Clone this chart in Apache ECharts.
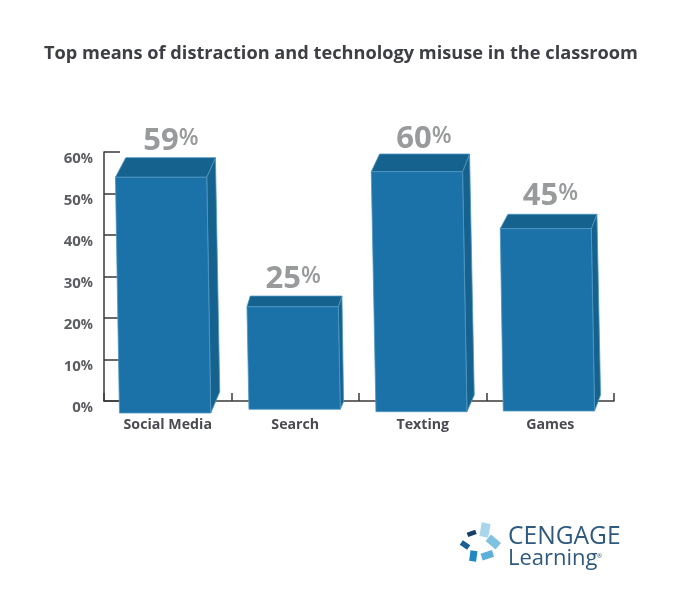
<!DOCTYPE html>
<html><head><meta charset="utf-8">
<style>html,body{margin:0;padding:0;background:#fff}#c{width:700px;height:614px}</style>
<script src="https://cdn.jsdelivr.net/npm/echarts@6/dist/echarts.min.js"></script>
</head><body><div id="c"></div>
<script>
const chartTitle = 'Top means of distraction and technology misuse in the classroom';
const categories = ['Social Media', 'Search', 'Texting', 'Games'];
const shareValues = [59, 25, 60, 45];
const yTicks = [0, 10, 20, 30, 40, 50, 60];

// Drawing geometry of each pseudo-3D box, in pixels around the category centre.
const boxLook = [
  {fl:-52.3, fr:39, bl:-48.3, br:43, tl:-42, tr:47.7, sb:52, lift:1.5, dy:19.6, drop:12, sideDrop:-9.3, lx:11, ly:-16},
  {fl:-48.3, fr:43, bl:-46.3, br:45, tl:-45, tr:46.7, sb:48.3, lift:-1.2, dy:10.7, drop:8.3, sideDrop:0.7, lx:5.7, ly:-16.5},
  {fl:-51.5, fr:39.8, bl:-46.8, br:44.2, tl:-43.2, tr:46.8, sb:51.5, lift:2, dy:17.7, drop:10.7, sideDrop:-6, lx:9, ly:-15},
  {fl:-50, fr:41, bl:-47, br:44.3, tl:-42.3, tr:46.7, sb:50.3, lift:0, dy:14.3, drop:10, sideDrop:-6, lx:8, ly:-18}
];
const FRONT = '#1b72a8', DARK = '#15628f', EDGE = '#4f97c2';

function renderBox(params, api) {
  const i = params.dataIndex;
  const k = boxLook[i];
  const p = api.coord([api.value(0), api.value(1)]);
  const z = api.coord([api.value(0), 0]);
  const cx = p[0];
  const backTop = p[1] + k.lift;
  const frontTop = backTop + k.dy;
  const frontBot = z[1] + k.drop;
  const sideBot = z[1] + k.sideDrop;
  const line = {stroke: EDGE, lineWidth: 0.8};
  return {
    type: 'group',
    children: [
      {type:'polygon', shape:{points:[[cx+k.fr,frontTop],[cx+k.tr,backTop],[cx+k.sb,sideBot],[cx+k.br,frontBot]]}, style:Object.assign({fill:DARK},line)},
      {type:'polygon', shape:{points:[[cx+k.fl,frontTop],[cx+k.tl,backTop],[cx+k.tr,backTop],[cx+k.fr,frontTop]]}, style:Object.assign({fill:DARK},line)},
      {type:'polygon', shape:{points:[[cx+k.fl,frontTop],[cx+k.fr,frontTop],[cx+k.br,frontBot],[cx+k.bl,frontBot]]}, style:Object.assign({fill:FRONT},line)},
      {type:'text', style:{x:cx+k.lx, y:backTop+k.ly, text:String(api.value(1)), fill:'#999a9c',
        font:'bold 31px "Open Sans"', align:'right', verticalAlign:'middle'}},
      {type:'text', style:{x:cx+k.lx, y:backTop+k.ly-3, text:'%', fill:'#999a9c',
        font:'600 23px "Open Sans"', align:'left', verticalAlign:'middle'}}
    ]
  };
}

const tile = (x, y, w, h, deg, fill) => ({
  type:'rect', x, y, rotation: -deg*Math.PI/180, originX:0, originY:0,
  shape:{x:-w/2, y:-h/2, width:w, height:h}, style:{fill}, silent:true
});

const chart = echarts.init(document.getElementById('c'), null, {renderer:'canvas'});
chart.setOption({
  animation:false,
  backgroundColor:'#fff',
  title:{text:chartTitle, left:39, top:40, textStyle:{fontFamily:'Open Sans', fontWeight:'bold', fontSize:18.2, color:'#3d3f45'}},
  grid:{left:104, right:86, top:152, bottom:213, containLabel:false},
  xAxis:{type:'category', data:categories, boundaryGap:true,
    axisLine:{lineStyle:{color:'#3a3a3a', width:1.5}},
    axisTick:{show:true, inside:true, length:8, lineStyle:{color:'#3a3a3a', width:1.5}},
    axisLabel:{fontFamily:'Open Sans', fontWeight:'bold', fontSize:14.2, color:'#4a4b52', margin:17}},
  yAxis:{type:'value', min:yTicks[0], max:yTicks[yTicks.length-1], interval:10,
    splitLine:{show:false},
    axisLine:{show:true, lineStyle:{color:'#3a3a3a', width:1.5}},
    axisTick:{show:true, inside:true, length:16, lineStyle:{color:'#3a3a3a', width:1.5}},
    axisLabel:{margin:11, padding:[14,0,0,0], formatter:v=>'{n|'+v+'}{p|%}',
      rich:{n:{fontFamily:'Open Sans', fontWeight:'bold', fontSize:15, color:'#5c5d62'},
            p:{fontFamily:'Open Sans', fontWeight:'bold', fontSize:13.5, color:'#5c5d62'}}}},
  series:[{type:'custom', data:shareValues.map((v,i)=>[i,v]), encode:{x:0,y:1}, renderItem:renderBox, clip:false, z:3}],
  graphic:[
    tile(485,530,9,14,10,'#a9d6ea'),
    tile(493.3,542,13,8.5,40,'#7fc2e0'),
    tile(487.3,555.3,12,7,-18,'#5cb0d8'),
    tile(473.3,556,7,10.5,8,'#1f88c2'),
    tile(465,545,9,5.5,35,'#1c5f95'),
    tile(471.7,533.3,9,4.5,-20,'#173f66'),
    {type:'text', x:508, y:524, style:{text:'CENGAGE', fill:'#2f5a7e', font:'24.6px "Open Sans"'}},
    {type:'text', x:508, y:548, style:{text:'Learning', fill:'#2f5a7e', font:'22px "Open Sans"'}},
    {type:'text', x:597, y:553, style:{text:'®', fill:'#2f5a7e', font:'6px "Open Sans"'}}
  ]
});
</script></body></html>
